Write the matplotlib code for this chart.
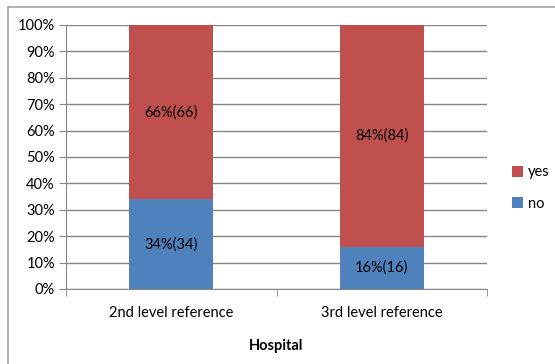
import matplotlib.pyplot as plt
from matplotlib.lines import Line2D
import numpy as np

categories = ['2nd level reference', '3rd level reference']
no_vals = [34, 16]
yes_vals = [66, 84]
yticks = [0, 10, 20, 30, 40, 50, 60, 70, 80, 90, 100]

plt.rcParams['font.family'] = ['Lato', 'DejaVu Sans']

W, H = 555, 364
fs = 10.5
fig = plt.figure(figsize=(W / 100, H / 100), dpi=100)
ax = fig.add_axes([66 / W, 1 - 289 / H, (487 - 66) / W, (289 - 25) / H])

# outer frame (left and top visible)
fig.add_artist(Line2D([8 / W, 8 / W], [0, 1 - 7 / H], transform=fig.transFigure, color='#a6a6a6', lw=1.2))
fig.add_artist(Line2D([8 / W, 1], [1 - 7 / H, 1 - 7 / H], transform=fig.transFigure, color='#a6a6a6', lw=1.2))

x = np.arange(len(categories))
red = '#C0504D'
blue = '#4F81BD'
ax.bar(x, no_vals, width=0.4, color=blue, label='no', zorder=3)
ax.bar(x, yes_vals, width=0.4, bottom=no_vals, color=red, label='yes', zorder=3)

for i in range(len(categories)):
    ax.text(x[i], no_vals[i] / 2, f'{no_vals[i]}%({no_vals[i]})', ha='center', va='center', fontsize=fs, zorder=4)
    ax.text(x[i], no_vals[i] + yes_vals[i] / 2, f'{yes_vals[i]}%({yes_vals[i]})', ha='center', va='center', fontsize=fs, zorder=4)

ax.set_xlim(-0.5, 1.5)
ax.set_ylim(0, 100)
ax.set_yticks(yticks)
ax.set_yticklabels([f'{v}%' for v in yticks], fontsize=fs)
ax.set_xticks(x)
ax.set_xticklabels(categories, fontsize=fs)
ax.tick_params(axis='x', length=0, pad=12)
ax.tick_params(axis='y', length=5, color='#868686', pad=3)
ax.set_xticks([-0.5, 0.5, 1.5], minor=True)
ax.tick_params(axis='x', which='minor', length=5, color='#868686')
ax.grid(axis='y', color='#868686', lw=1, zorder=0)

for s in ['top', 'right']:
    ax.spines[s].set_visible(False)
ax.spines['left'].set_color('#868686')
ax.spines['bottom'].set_color('#868686')

ax.set_xlabel('Hospital', fontsize=fs, fontweight='bold', labelpad=14)

handles, labels = ax.get_legend_handles_labels()
ax.legend(handles[::-1], labels[::-1], loc='center left', bbox_to_anchor=(512 / W, 1 - 188 / H),
          bbox_transform=fig.transFigure, frameon=False, fontsize=fs, handlelength=0.75, handleheight=0.75,
          labelspacing=1.2, handletextpad=0.35, borderpad=0, borderaxespad=0)

fig.savefig('out.png', dpi=100)
